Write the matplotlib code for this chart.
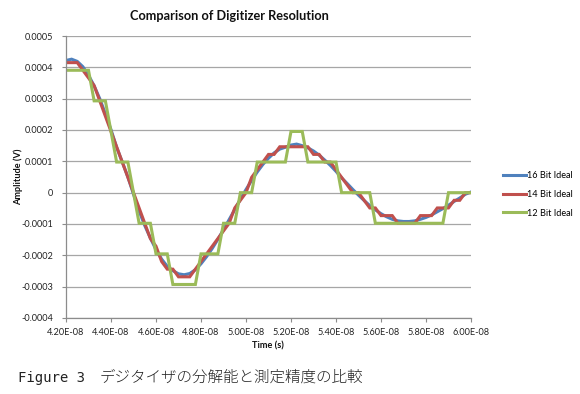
import numpy as np
import matplotlib
matplotlib.use("Agg")
import matplotlib.pyplot as plt
from matplotlib.ticker import FixedLocator, FixedFormatter

plt.rcParams['font.family'] = ['Lato', 'DejaVu Sans']

# sample times (ns), 0.25 ns spacing
time_ns = np.arange(42.0, 60.001, 0.25)

ideal16 = [4.22e-4, 4.26e-4, 4.19e-4, 4.02e-4, 3.75e-4, 3.41e-4, 3.00e-4, 2.52e-4,
           2.01e-4, 1.45e-4, 9.8e-5, 5.0e-5, -5e-6, -5.9e-5, -1.05e-4, -1.45e-4,
           -1.82e-4, -2.12e-4, -2.35e-4, -2.49e-4, -2.59e-4, -2.62e-4, -2.58e-4, -2.46e-4,
           -2.27e-4, -2.04e-4, -1.78e-4, -1.49e-4, -1.18e-4, -8.6e-5, -5.4e-5, -2.1e-5,
           1.0e-5, 3.9e-5, 6.6e-5, 9.0e-5, 1.10e-4, 1.27e-4, 1.39e-4, 1.45e-4,
           1.52e-4, 1.55e-4, 1.50e-4, 1.43e-4, 1.33e-4, 1.20e-4, 1.04e-4, 8.7e-5,
           6.8e-5, 4.7e-5, 2.9e-5, 1.0e-5, -8e-6, -2.5e-5, -4.1e-5, -5.5e-5,
           -6.7e-5, -7.7e-5, -8.5e-5, -9.0e-5, -9.2e-5, -9.2e-5, -9.0e-5, -8.5e-5,
           -7.9e-5, -7.1e-5, -6.1e-5, -5.1e-5, -4.0e-5, -2.8e-5, -1.7e-5, -5e-6,
           2e-6]

ideal14 = [4.150e-4, 4.150e-4, 4.150e-4, 3.906e-4, 3.662e-4, 3.418e-4, 2.930e-4, 2.441e-4,
           1.953e-4, 1.465e-4, 9.77e-5, 4.88e-5, 0.0, -4.88e-5, -9.77e-5, -1.465e-4,
           -1.709e-4, -2.197e-4, -2.441e-4, -2.441e-4, -2.686e-4, -2.686e-4, -2.686e-4, -2.441e-4,
           -2.197e-4, -1.953e-4, -1.709e-4, -1.465e-4, -1.221e-4, -9.77e-5, -4.88e-5, -2.44e-5,
           0.0, 4.88e-5, 7.32e-5, 9.77e-5, 1.221e-4, 1.221e-4, 1.465e-4, 1.465e-4,
           1.465e-4, 1.465e-4, 1.465e-4, 1.465e-4, 1.221e-4, 1.221e-4, 9.77e-5, 9.77e-5,
           7.32e-5, 4.88e-5, 2.44e-5, 0.0, 0.0, -2.44e-5, -4.88e-5, -4.88e-5,
           -7.32e-5, -7.32e-5, -7.32e-5, -9.77e-5, -9.77e-5, -9.77e-5, -9.77e-5, -7.32e-5,
           -7.32e-5, -7.32e-5, -4.88e-5, -4.88e-5, -4.88e-5, -2.44e-5, -2.44e-5, 0.0,
           0.0]

ideal12 = [3.906e-4, 3.906e-4, 3.906e-4, 3.906e-4, 3.906e-4, 2.930e-4, 2.930e-4, 2.930e-4,
           1.953e-4, 9.77e-5, 9.77e-5, 9.77e-5, 0.0, -9.77e-5, -9.77e-5, -9.77e-5,
           -1.953e-4, -1.953e-4, -1.953e-4, -2.930e-4, -2.930e-4, -2.930e-4, -2.930e-4, -2.930e-4,
           -1.953e-4, -1.953e-4, -1.953e-4, -1.953e-4, -9.77e-5, -9.77e-5, -9.77e-5, 0.0,
           0.0, 0.0, 9.77e-5, 9.77e-5, 9.77e-5, 9.77e-5, 9.77e-5, 9.77e-5,
           1.953e-4, 1.953e-4, 1.953e-4, 9.77e-5, 9.77e-5, 9.77e-5, 9.77e-5, 9.77e-5,
           9.77e-5, 0.0, 0.0, 0.0, 0.0, 0.0, 0.0, -9.77e-5,
           -9.77e-5, -9.77e-5, -9.77e-5, -9.77e-5, -9.77e-5, -9.77e-5, -9.77e-5, -9.77e-5,
           -9.77e-5, -9.77e-5, -9.77e-5, -9.77e-5, 0.0, 0.0, 0.0, 0.0,
           0.0]

series_names = ['16 Bit Ideal', '14 Bit Ideal', '12 Bit Ideal']
series_colors = ['#4F81BD', '#C0504D', '#9BBB59']

x_ticks = [4.2e-8, 4.4e-8, 4.6e-8, 4.8e-8, 5.0e-8, 5.2e-8, 5.4e-8, 5.6e-8, 5.8e-8, 6.0e-8]
x_tick_labels = ['4.20E-08', '4.40E-08', '4.60E-08', '4.80E-08', '5.00E-08',
                 '5.20E-08', '5.40E-08', '5.60E-08', '5.80E-08', '6.00E-08']
y_ticks = [-0.0004, -0.0003, -0.0002, -0.0001, 0.0, 0.0001, 0.0002, 0.0003, 0.0004, 0.0005]
y_tick_labels = ['-0.0004', '-0.0003', '-0.0002', '-0.0001', '0',
                 '0.0001', '0.0002', '0.0003', '0.0004', '0.0005']

title = 'Comparison of Digitizer Resolution'
x_label = 'Time (s)'
y_label = 'Amplitude (V)'
caption_head = 'Figure 3'
caption_body = 'デジタイザの分解能と測定精度の比較'

W, H = 580, 394
fig = plt.figure(figsize=(W / 100, H / 100), dpi=100)
ax = fig.add_axes([66 / W, 1 - 318 / H, (471 - 66) / W, (318 - 36) / H])

t_sec = time_ns * 1e-9
for vals, name, col in zip([ideal16, ideal14, ideal12], series_names, series_colors):
    ax.plot(t_sec, vals, color=col, lw=2.2, label=name, solid_joinstyle='miter')

ax.set_xlim(x_ticks[0], x_ticks[-1])
ax.set_ylim(y_ticks[0], y_ticks[-1])
ax.xaxis.set_major_locator(FixedLocator(x_ticks))
ax.xaxis.set_major_formatter(FixedFormatter(x_tick_labels))
ax.yaxis.set_major_locator(FixedLocator(y_ticks))
ax.yaxis.set_major_formatter(FixedFormatter(y_tick_labels))

grid_col = '#a6a6a6'
ax.grid(axis='y', color=grid_col, lw=0.9)
ax.set_axisbelow(True)
for s in ['top', 'right']:
    ax.spines[s].set_visible(False)
for s in ['left', 'bottom']:
    ax.spines[s].set_color('#8c8c8c')
    ax.spines[s].set_linewidth(0.9)
ax.tick_params(axis='both', direction='out', length=3, width=0.8, color='#8c8c8c',
               labelsize=6.6, labelcolor='#222222')
ax.tick_params(axis='y', pad=6)
ax.tick_params(axis='x', pad=4)

fig.text(229 / W, 1 - 16 / H, title, ha='center', va='center', fontsize=9.2,
         fontweight='bold', color='#111111')
fig.text(268 / W, 1 - 346 / H, x_label, ha='center', va='center', fontsize=6.6,
         fontweight='bold', color='#111111')
fig.text(18 / W, 1 - 177 / H, y_label, ha='center', va='center', rotation=90,
         fontsize=6.6, fontweight='bold', color='#111111')

ax.legend(loc='center left', bbox_to_anchor=(503 / W, 1 - 194.5 / H),
          bbox_transform=fig.transFigure, frameon=False, fontsize=6.6,
          borderpad=0, borderaxespad=0, handlelength=2.5, handletextpad=0.15,
          labelspacing=1.05)

fig.text(18 / W, 1 - 382 / H, caption_head, ha='left', va='baseline', fontsize=10,
         family=['DejaVu Sans Mono'], color='#222222')
fig.text(100 / W, 1 - 382 / H, caption_body, ha='left', va='baseline', fontsize=11.2,
         family=['Noto Sans CJK JP', 'DejaVu Sans'], fontweight='light', color='#222222')

fig.savefig('out.png', dpi=100, facecolor='white')
